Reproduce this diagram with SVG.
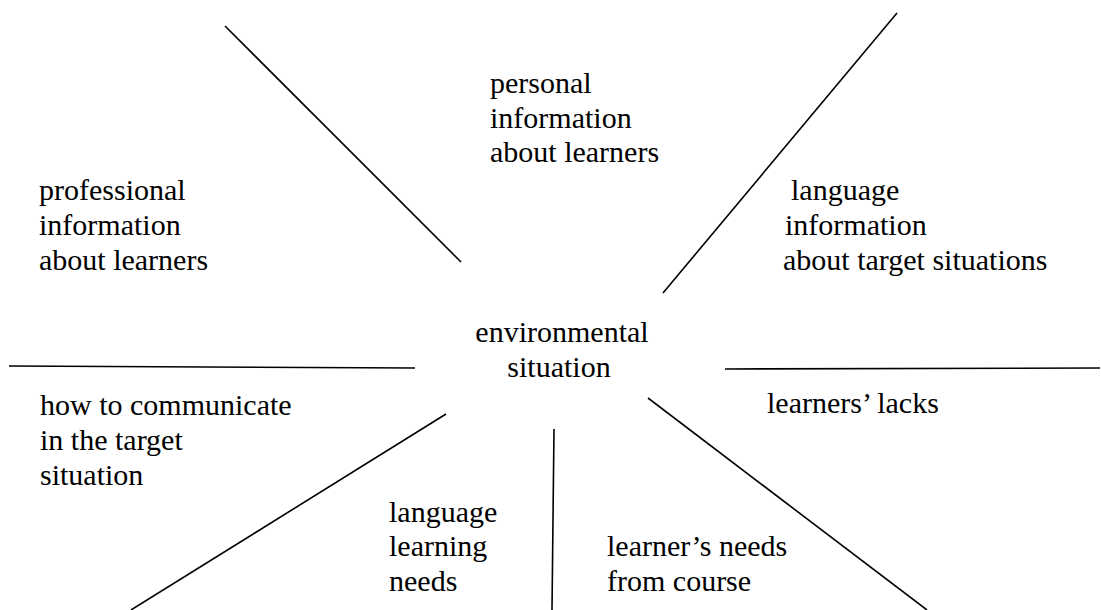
<svg xmlns="http://www.w3.org/2000/svg" width="1101" height="610" viewBox="0 0 1101 610">
<style>
.t{font-family:"Liberation Serif","Times New Roman",serif;font-size:30px;fill:#000}
.c line{stroke:#000;stroke-width:1.6;fill:none}
</style>
<rect width="1101" height="610" fill="#fff"/>
<g class="c" id="connectors">
<line x1="225" y1="26" x2="461" y2="262"/>
<line x1="897" y1="13" x2="663" y2="293"/>
<line x1="9" y1="366" x2="415" y2="368"/>
<line x1="725" y1="369" x2="1100" y2="368"/>
<line x1="446" y1="414" x2="131" y2="610"/>
<line x1="554" y1="429" x2="552" y2="610"/>
<line x1="648" y1="398" x2="927" y2="610"/>
</g>
<g id="center"><text class="t" x="562" y="342" text-anchor="middle">environmental</text><text class="t" x="559" y="377" text-anchor="middle">situation</text></g>
<g id="personal"><text class="t" x="490" y="93">personal</text><text class="t" x="490" y="128">information</text><text class="t" x="490" y="162">about learners</text></g>
<g id="professional"><text class="t" x="39" y="200">professional</text><text class="t" x="39" y="235">information</text><text class="t" x="39" y="270">about learners</text></g>
<g id="language-info"><text class="t" x="791" y="200">language</text><text class="t" x="785" y="235">information</text><text class="t" x="783" y="270">about target situations</text></g>
<g id="communicate"><text class="t" x="40" y="415">how to communicate</text><text class="t" x="40" y="450">in the target</text><text class="t" x="40" y="485">situation</text></g>
<g id="lacks"><text class="t" x="767" y="413">learners’ lacks</text></g>
<g id="learning-needs"><text class="t" x="389" y="522">language</text><text class="t" x="389" y="556">learning</text><text class="t" x="389" y="591">needs</text></g>
<g id="course-needs"><text class="t" x="607" y="556">learner’s needs</text><text class="t" x="607" y="591">from course</text></g>
</svg>
